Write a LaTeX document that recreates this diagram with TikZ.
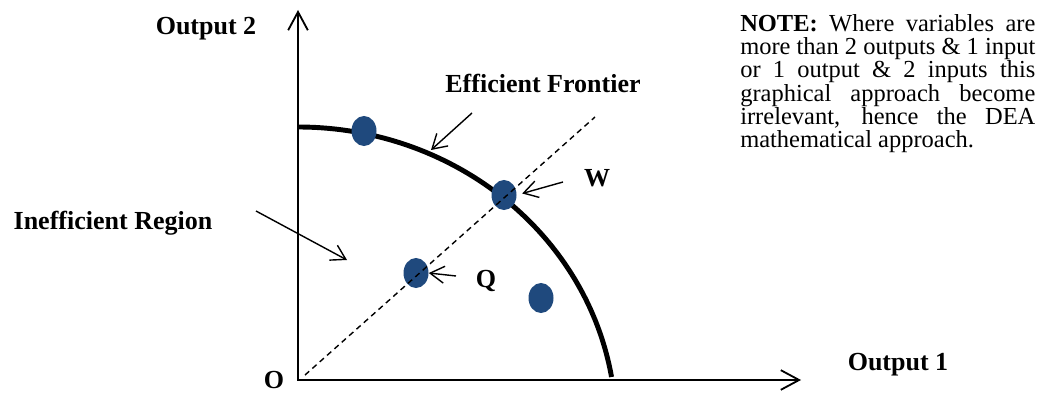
\documentclass[tikz,border=0pt]{standalone}
\usepackage{fontspec}
\setmainfont{Liberation Serif}
\usetikzlibrary{arrows.meta,shapes.geometric}
\definecolor{dmublue}{RGB}{31,73,125}

\begin{document}
\begin{tikzpicture}[x=0.025cm,y=-0.025cm,>={Straight Barb[length=10pt,width=12pt]},
  lbl/.style={font=\bfseries\fontsize{18.5}{20}\selectfont,inner sep=0pt,anchor=base},
  dmu/.style={ellipse,fill=dmublue,minimum width=0.625cm,minimum height=0.75cm,inner sep=0pt},
  ptr/.style={->,line width=1pt}]
\useasboundingbox (0,0) rectangle (1052,393);
\coordinate (O) at (298,380);
\coordinate (ytip) at (298,10);
\coordinate (xtip) at (801,380);
\coordinate (ftop) at (298,127);
\coordinate (rayA) at (305,375);
\coordinate (rayB) at (595,117);
% axes and frontier
\draw[<->,line width=1.3pt,>={Straight Barb[length=13pt,width=14pt]}] (ytip) -- (O) -- (xtip);
\draw[line width=3.5pt] (ftop) arc[start angle=-90,end angle=-9.6,x radius=318,y radius=300];
% units
\node[dmu] (D1) at (364,131) {};
\node[dmu] (W) at (504,195) {};
\node[dmu] (Q) at (416,273) {};
\node[dmu] (D4) at (541,298) {};
\draw[line width=1pt,dash pattern=on 4pt off 3pt] (rayA) -- (rayB);
% labels
\node[lbl] (out2) at (206,35) {Output 2};
\node[lbl] (ef) at (543,93) {Efficient Frontier};
\node[lbl] (wl) at (597,187) {W};
\node[lbl] (ql) at (486,287) {Q};
\node[lbl] (ir) at (113,230) {Inefficient Region};
\node[lbl] (ol) at (274,388) {O};
\node[lbl] (out1) at (898,370) {Output 1};
% pointers
\coordinate (eftail) at (472,113);
\coordinate (efhead) at (431,150);
\coordinate (wtail) at (563,182);
\coordinate (qtail) at (456,276);
\coordinate (irtail) at (256,211);
\coordinate (irhead) at (347,260);
\draw[ptr] (eftail) -- (efhead);
\draw[ptr,shorten >=4pt] (wtail) -- (W.east);
\draw[ptr] (qtail) -- (Q.east);
\draw[ptr] (irtail) -- (irhead);
\node[anchor=north west,inner sep=0pt,text width=7.375cm,align=justify,font=\fontsize{17.4}{16.6}\selectfont] (note) at (740,14) {\textbf{NOTE:} Where variables are\linebreak more than 2 outputs \& 1 input\linebreak or 1 output \& 2 inputs this\linebreak graphical approach become\linebreak irrelevant, hence the DEA\linebreak mathematical approach.};
\end{tikzpicture}
\end{document}
